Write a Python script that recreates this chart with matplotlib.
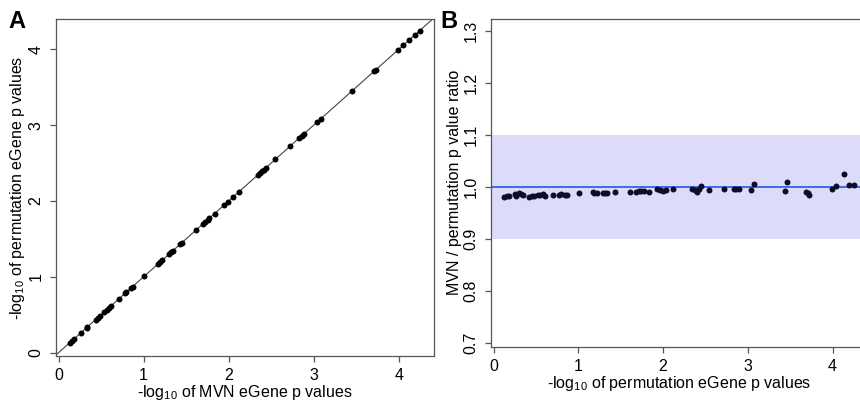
import matplotlib
matplotlib.use("Agg")
import matplotlib.pyplot as plt

plt.rcParams['font.family'] = ['Liberation Sans', 'DejaVu Sans']
plt.rcParams['mathtext.fontset'] = 'custom'
plt.rcParams['mathtext.rm'] = 'Liberation Sans'

# Panel A: -log10 MVN p (x) vs -log10 permutation p (y)
mvn_a = [0.134, 0.153, 0.181, 0.263, 0.330, 0.338, 0.436, 0.460, 0.487, 0.538,
         0.566, 0.593, 0.613, 0.711, 0.782, 0.794, 0.853, 0.872, 1.010, 1.175,
         1.194, 1.222, 1.301, 1.324, 1.340, 1.430, 1.450, 1.615, 1.694, 1.725,
         1.752, 1.772, 1.835, 1.941, 1.992, 2.047, 2.118, 2.342, 2.373, 2.393,
         2.413, 2.440, 2.550, 2.727, 2.833, 2.857, 2.884, 3.041, 3.081, 3.446,
         3.709, 3.729, 3.996, 4.051, 4.122, 4.193, 4.248]
perm_a = [0.134, 0.153, 0.181, 0.263, 0.330, 0.338, 0.436, 0.460, 0.487, 0.538,
          0.566, 0.593, 0.613, 0.711, 0.782, 0.794, 0.853, 0.872, 1.010, 1.175,
          1.194, 1.222, 1.301, 1.324, 1.340, 1.430, 1.450, 1.615, 1.694, 1.725,
          1.752, 1.772, 1.835, 1.941, 1.992, 2.047, 2.118, 2.342, 2.373, 2.393,
          2.413, 2.440, 2.550, 2.727, 2.833, 2.857, 2.884, 3.041, 3.081, 3.446,
          3.709, 3.729, 3.996, 4.051, 4.122, 4.193, 4.248]

# Panel B: -log10 permutation p (x) vs MVN/permutation p-value ratio (y)
perm_b = [0.126, 0.157, 0.185, 0.248, 0.267, 0.295, 0.323, 0.342, 0.421, 0.452,
          0.480, 0.519, 0.551, 0.578, 0.610, 0.700, 0.775, 0.798, 0.846, 0.865,
          1.003, 1.168, 1.188, 1.215, 1.290, 1.314, 1.333, 1.436, 1.605, 1.683,
          1.711, 1.742, 1.770, 1.829, 1.927, 1.959, 1.994, 2.033, 2.112, 2.340,
          2.372, 2.399, 2.419, 2.446, 2.545, 2.722, 2.832, 2.859, 2.891, 3.036,
          3.076, 3.441, 3.461, 3.689, 3.705, 3.725, 3.992, 4.039, 4.130, 4.189,
          4.248]
ratio_b = [0.980, 0.982, 0.983, 0.986, 0.982, 0.988, 0.987, 0.984, 0.980, 0.982,
           0.983, 0.984, 0.985, 0.987, 0.983, 0.985, 0.985, 0.986, 0.985, 0.985,
           0.989, 0.990, 0.989, 0.988, 0.989, 0.989, 0.989, 0.990, 0.991, 0.990,
           0.992, 0.993, 0.992, 0.991, 0.996, 0.994, 0.992, 0.994, 0.997, 0.996,
           0.994, 0.991, 0.996, 1.002, 0.994, 0.997, 0.996, 0.996, 0.996, 0.994,
           1.005, 0.992, 1.010, 0.991, 0.988, 0.985, 0.996, 1.001, 1.025, 1.003,
           1.003]

xticks = [0, 1, 2, 3, 4]
yticks_a = [0, 1, 2, 3, 4]
yticks_b = [0.7, 0.8, 0.9, 1.0, 1.1, 1.2, 1.3]
band = (0.9, 1.1)
ref_ratio = 1.0

W, H = 860, 404
fig = plt.figure(figsize=(W / 100, H / 100), dpi=100)

box_col = '#555555'
fs = 11.5

def style(ax):
    for s in ax.spines.values():
        s.set_color(box_col)
        s.set_linewidth(0.9)
    ax.tick_params(direction='out', length=4, width=0.9, color=box_col,
                   labelsize=fs)
    ax.tick_params(axis='x', pad=5)
    ax.tick_params(axis='y', pad=5)
    for lab in ax.get_yticklabels():
        lab.set_rotation(90)
        lab.set_va('center')

# Panel A
axA = fig.add_axes([56 / W, 1 - 356 / H, (434 - 56) / W, (356 - 19) / H])
axA.set_xlim(-0.03, 4.415)
axA.set_ylim(-0.044, 4.40)
axA.plot([-1, 6], [-1, 6], color='#444444', lw=0.8, zorder=1)
axA.plot(mvn_a, perm_a, 'o', color='black', ms=4.3, mew=0, zorder=2)
axA.set_xticks(xticks)
axA.set_yticks(yticks_a)
axA.set_xticklabels([str(t) for t in xticks])
axA.set_yticklabels([str(t) for t in yticks_a])
style(axA)
axA.set_xlabel(r'-log$_{\mathregular{10}}$ of MVN eGene p values', fontsize=fs, labelpad=0)
axA.set_ylabel(r'-log$_{\mathregular{10}}$ of permutation eGene p values', fontsize=fs, labelpad=1)

# Panel B
x0b, x1b = -0.03, 4.415
pxu = 84.75
axB = fig.add_axes([491 / W, 1 - 346.7 / H, (x1b - x0b) * pxu / W, (346.7 - 19) / H])
axB.set_xlim(x0b, x1b)
axB.set_ylim(0.6935, 1.3225)
axB.axhspan(band[0], band[1], color='#dcdcf8', lw=0, zorder=0)
axB.axhline(ref_ratio, color='#4169e8', lw=1.4, zorder=1)
axB.plot(perm_b, ratio_b, 'o', color='#0d0d2a', ms=4.3, mew=0, zorder=2)
axB.set_xticks(xticks)
axB.set_yticks(yticks_b)
axB.set_xticklabels([str(t) for t in xticks])
axB.set_yticklabels([f'{t:.1f}' for t in yticks_b])
style(axB)
axB.set_xlabel(r'-log$_{\mathregular{10}}$ of permutation eGene p values', fontsize=fs, labelpad=0)
axB.set_ylabel('MVN / permutation p value ratio', fontsize=fs, labelpad=1)

fig.text(8 / W, 1 - 10 / H, 'A', fontsize=17, fontweight='bold', va='top', ha='left')
fig.text(440 / W, 1 - 10 / H, 'B', fontsize=17, fontweight='bold', va='top', ha='left')

fig.savefig('out.png', dpi=100)
